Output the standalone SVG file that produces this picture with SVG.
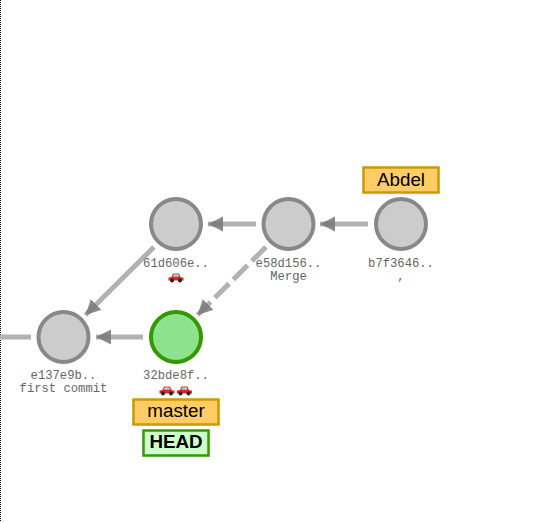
<svg xmlns="http://www.w3.org/2000/svg" width="546" height="522" viewBox="0 0 546 522">
<style>
text{text-anchor:middle}
.c{fill:#ccc;stroke:#888;stroke-width:4}
.h{fill:#8ee28e;stroke:#339900;stroke-width:4}
.e{stroke:#b2b2b2;stroke-width:5;fill:none;marker-end:url(#a)}
.d{stroke-dasharray:20 6}
.m{font:12.2px "Liberation Mono",monospace;fill:#666}
.t{font:18.8px "Liberation Sans",Arial,sans-serif;fill:#000}
.tb{font-weight:bold}
.b{fill:#ffcc66;stroke:#cc9900;stroke-width:2.5}
.hb{fill:#ccffcc;stroke:#339900;stroke-width:2.5}
</style>
<defs>
<marker id="a" markerUnits="userSpaceOnUse" markerWidth="16" markerHeight="16" refX="15" refY="7.500" orient="auto"><path d="M0 0L15 7.500L0 15Z" fill="#777" fill-opacity=".85"/></marker>
<g id="car"><path d="M-7.500 3.500V0.500L-4.500 0L-3 -3.500H3L4.500 0L7.500 0.800V3.500Z" fill="#d9281e"/><path d="M-2.200 -2.700H2.200L3.200 -.2H-3.200Z" fill="#9fd4ee"/><circle cx="-4" cy="3.500" r="2" fill="#223"/><circle cx="4" cy="3.500" r="2" fill="#223"/></g>
</defs>
<path d="M.5 0V522" stroke="#000" stroke-dasharray="1 1"/>
<g id="connectors">
<path class="e" d="M0 337H31" style="marker-end:none"/>
<path class="e" d="M143 337H96"/>
<path class="e" d="M154 247L85.500 315"/>
<path class="e d" d="M266 247L197.500 315"/>
<path class="e" d="M256 224H208"/>
<path class="e" d="M368 224H320"/>
</g>
<g id="e137e9b"><circle class="c" cx="63.500" cy="337" r="25"/><text class="m" x="63.500" y="379">e137e9b..</text><text class="m" x="63.500" y="392">first commit</text></g>
<g id="c32bde8"><circle class="h" cx="176" cy="337" r="25"/><text class="m" x="176" y="379">32bde8f..</text><use href="#car" x="167" y="390"/><use href="#car" x="184.500" y="390"/></g>
<g id="c61d606"><circle class="c" cx="176" cy="224" r="25"/><text class="m" x="176" y="267">61d606e..</text><use href="#car" x="176" y="277"/></g>
<g id="e58d156"><circle class="c" cx="288.500" cy="224" r="25"/><text class="m" x="288.500" y="267">e58d156..</text><text class="m" x="288.500" y="280">Merge</text></g>
<g id="b7f3646"><circle class="c" cx="401" cy="224" r="25"/><text class="m" x="401" y="267">b7f3646..</text><text class="m" x="401" y="280">,</text></g>
<g id="master"><rect class="b" x="133.500" y="399.500" width="85" height="25"/><text class="t" x="176" y="417">master</text></g>
<g id="head"><rect class="hb" x="143.500" y="430.500" width="65" height="25"/><text class="t tb" x="176" y="448">HEAD</text></g>
<g id="abdel"><rect class="b" x="363.500" y="167.500" width="75" height="25"/><text class="t" x="401" y="186">Abdel</text></g>
</svg>
